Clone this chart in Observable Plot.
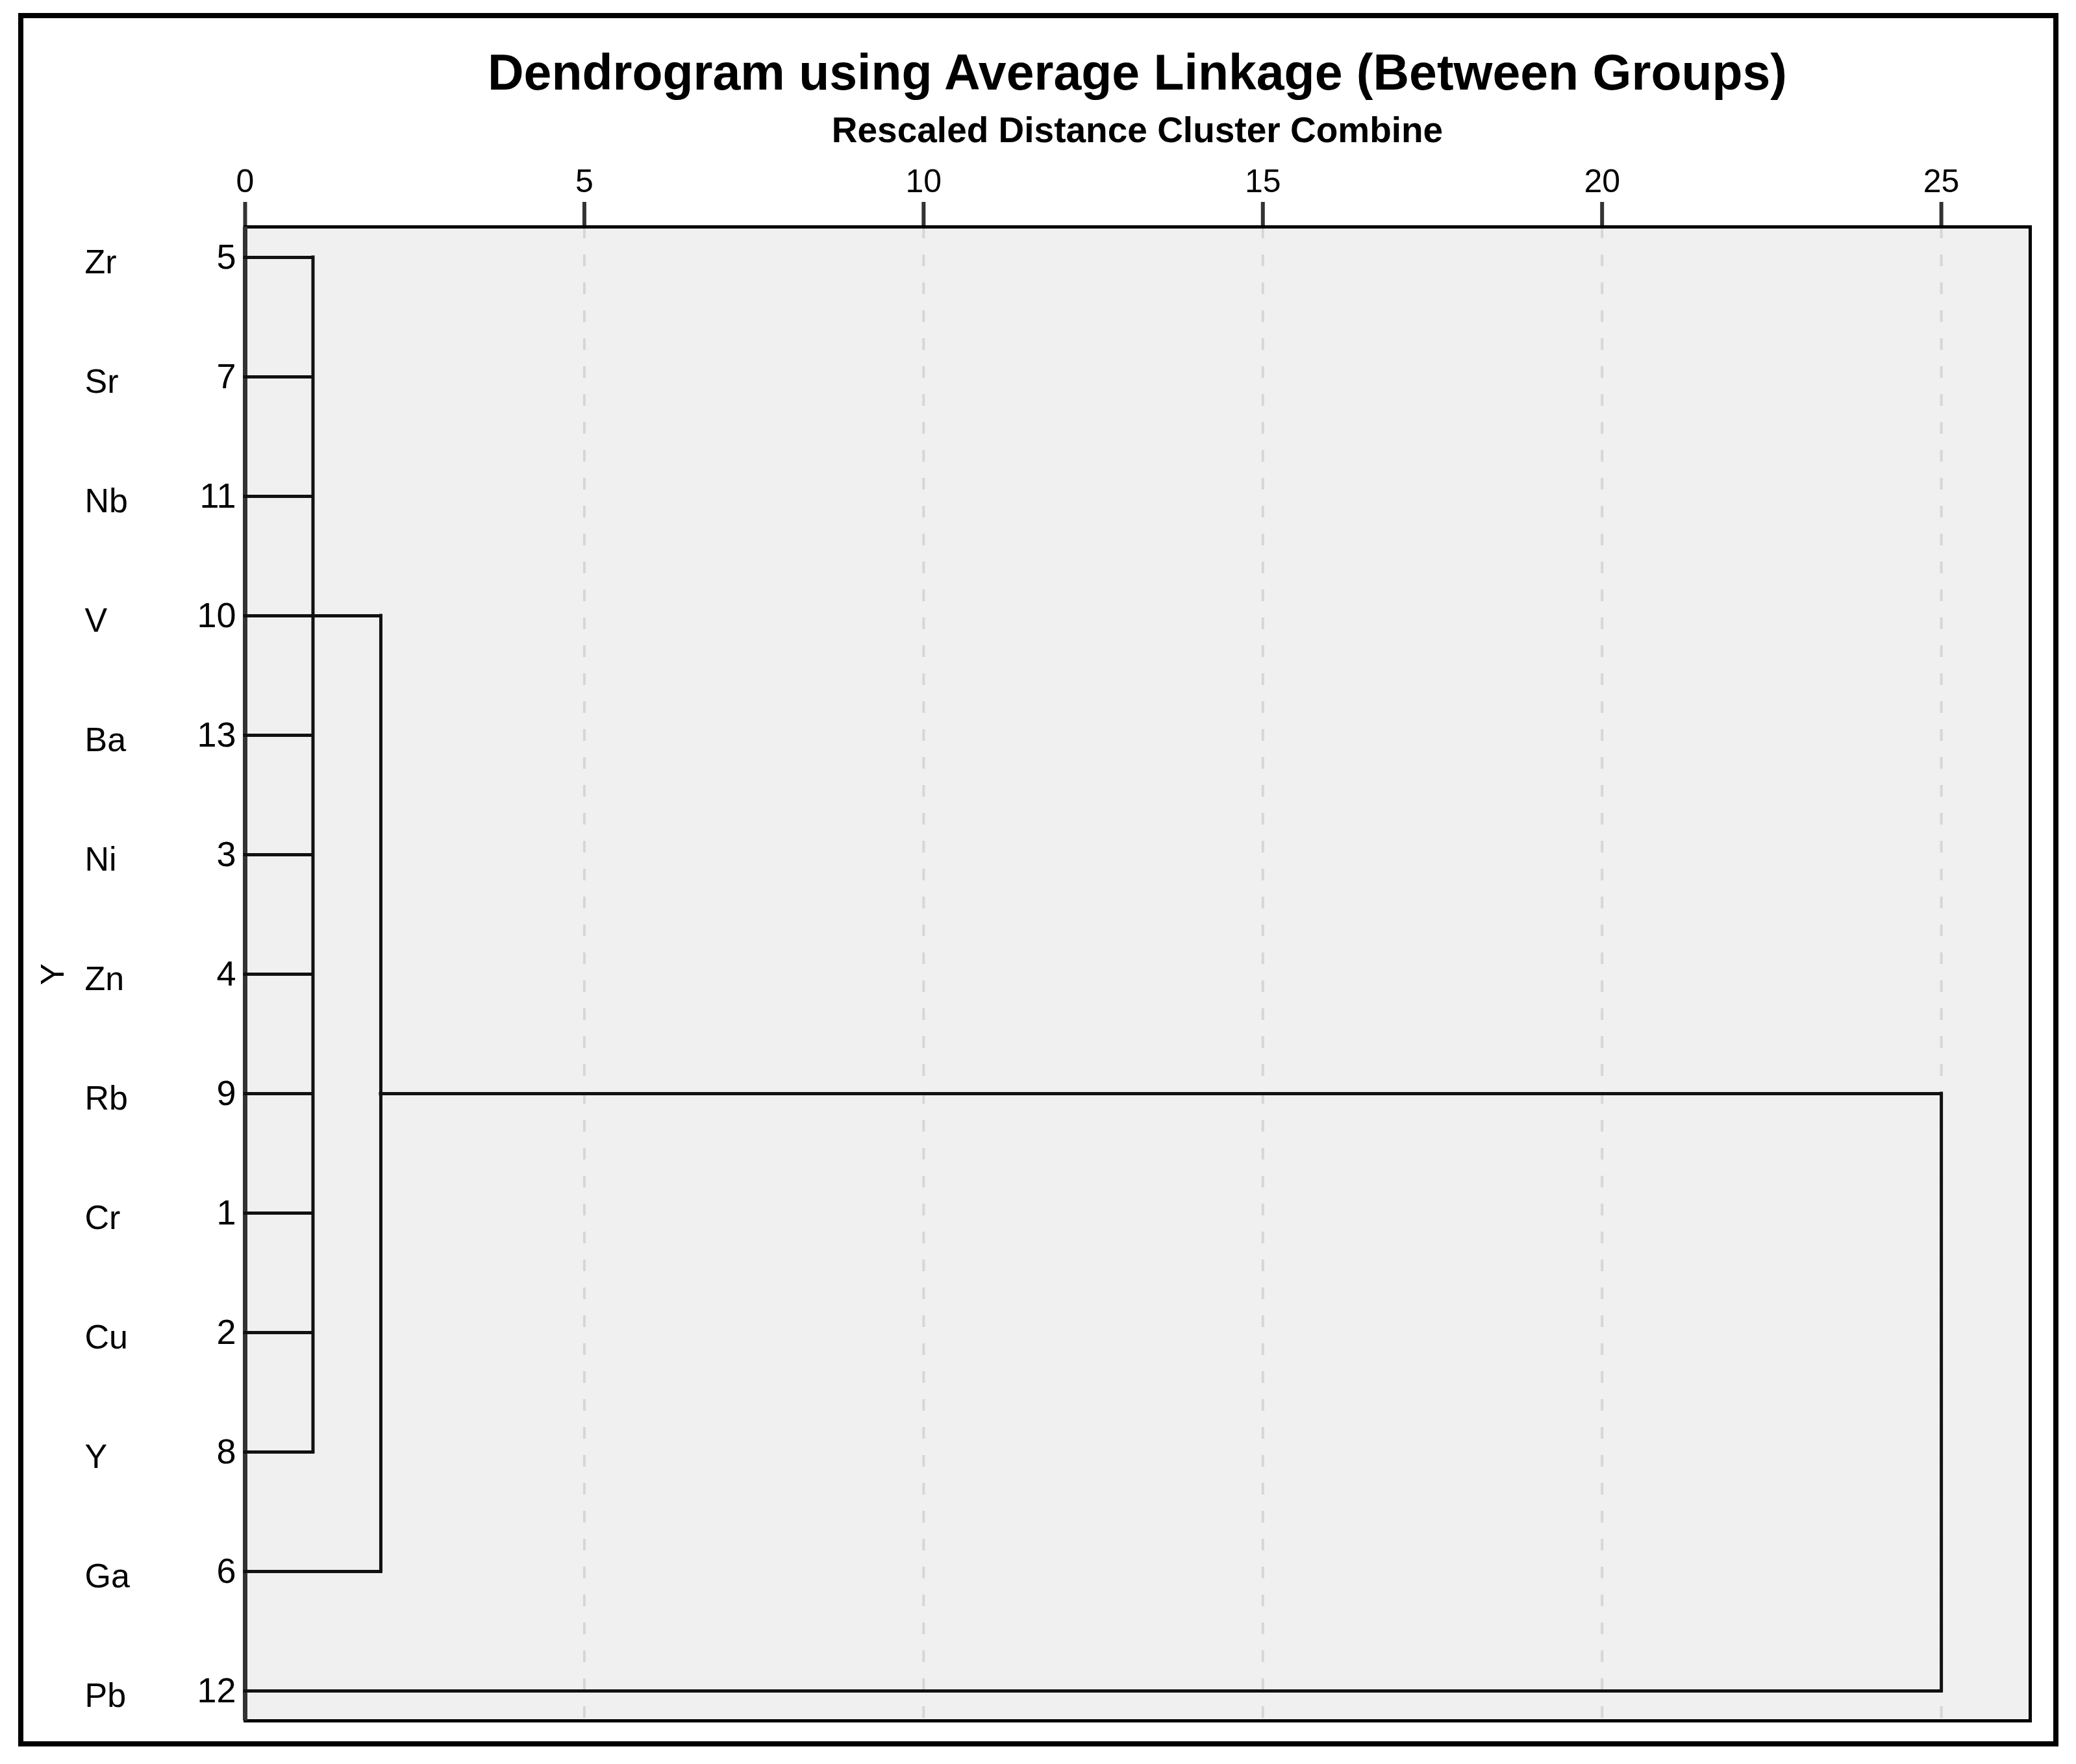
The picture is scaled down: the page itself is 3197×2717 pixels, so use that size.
<!DOCTYPE html>
<html><head><meta charset="utf-8">
<script src="https://cdn.jsdelivr.net/npm/d3@7"></script>
<script src="https://cdn.jsdelivr.net/npm/@observablehq/plot@0.6"></script>
<style>
html,body{margin:0;padding:0;background:#fff;}
#wrap{position:relative;width:3197px;height:2717px;font-family:"Liberation Sans",Arial,sans-serif;color:#000;overflow:hidden;background:#fff;}
#frame{position:absolute;left:28px;top:20px;width:3142px;height:2670px;border:8px solid #000;box-sizing:border-box;pointer-events:none;}
.title{position:absolute;left:377px;width:2749px;text-align:center;font-weight:bold;white-space:nowrap;}
#t1{top:73px;font-size:77px;line-height:77px;}
#t2{top:173px;font-size:55px;line-height:55px;}
#chart{position:absolute;left:0;top:240px;}
</style></head><body>
<div id="wrap">
  <div class="title" id="t1">Dendrogram using Average Linkage (Between Groups)</div>
  <div class="title" id="t2">Rescaled Distance Cluster Combine</div>
  <div id="chart"></div>
  <div id="frame"></div>
</div>
<script>
// Leaves in dendrogram order (top to bottom)
const leaves = ["Zr","Sr","Nb","V","Ba","Ni","Zn","Rb","Cr","Cu","Y","Ga","Pb"];
// SPSS case numbers shown beside each leaf
const caseNumbers = [5,7,11,10,13,3,4,9,1,2,8,6,12];
// Rescaled distance at which each leaf joins a cluster
const leafJoin = [1,1,1,1,1,1,1,1,1,1,1,2,25];
// Merges: rescaled distance, first and last row joined by the vertical line
const mergeDistance = [1, 2, 25];
const mergeTop = ["Zr", "V", "Rb"];
const mergeBottom = ["Y", "Ga", "Pb"];
// Cluster stems: row where the merged cluster continues, and the distance where it joins next
const stemRow = ["V", "Rb"];
const stemFrom = [1, 2];
const stemTo = [2, 25];
// Axis ticks
const xTicks = [0, 5, 10, 15, 20, 25];
const xMax = 26.31;
const gridTicks = [5, 10, 15, 20, 25];
const yTitle = "Y";
const yTitleRow = "Zn";

const leafData = leaves.map((name, i) => ({name, num: caseNumbers[i], join: leafJoin[i]}));
const merges = mergeDistance.map((d, i) => ({d, top: mergeTop[i], bottom: mergeBottom[i]}));
const stems = stemRow.map((r, i) => ({row: r, from: stemFrom[i], to: stemTo[i]}));
const numOf = new Map(leafData.map(d => [d.name, d.num]));

const font = "'Liberation Sans', Arial, sans-serif";
const chart = Plot.plot({
  width: 3197,
  height: 2477,
  marginLeft: 377,
  marginRight: 71,
  marginTop: 109,
  marginBottom: 67,
  style: {fontFamily: font, color: "#000", background: "transparent", overflow: "visible"},
  x: {domain: [0, xMax], axis: null},
  y: {type: "point", domain: leaves, padding: 0.24, axis: null},
  marks: [
    Plot.frame({fill: "#f0f0f0", stroke: null}),
    Plot.ruleX(gridTicks, {stroke: "#d6d6d6", strokeWidth: 4, strokeDasharray: "18,25"}),
    Plot.axisX({anchor: "top", ticks: xTicks, tickSize: 39, tickPadding: 15, fontSize: 50,
                stroke: "#333", strokeWidth: 6, tickFormat: d => String(d), label: null}),
    Plot.axisY({anchor: "left", tickSize: 0, tickPadding: 14, fontSize: 54,
                tickFormat: d => String(numOf.get(d)), label: null}),
    Plot.text(leafData, {y: "name", text: "name", frameAnchor: "left", dx: -247, dy: 8,
                textAnchor: "start", fontSize: 52}),
    Plot.text([yTitle], {y: () => yTitleRow, text: d => d, frameAnchor: "left", dx: -296,
                rotate: -90, fontSize: 50, textAnchor: "middle"}),
    Plot.frame({stroke: "#000", strokeWidth: 5}),
    Plot.ruleX([0], {stroke: "#333", strokeWidth: 7}),
    Plot.ruleY(leafData, {y: "name", x1: 0, x2: "join", stroke: "#111", strokeWidth: 5, strokeLinecap: "square"}),
    Plot.ruleX(merges, {x: "d", y1: "top", y2: "bottom", stroke: "#111", strokeWidth: 5, strokeLinecap: "square"}),
    Plot.ruleY(stems, {y: "row", x1: "from", x2: "to", stroke: "#111", strokeWidth: 5, strokeLinecap: "square"})
  ]
});
document.getElementById("chart").appendChild(chart);
</script>
</body></html>
